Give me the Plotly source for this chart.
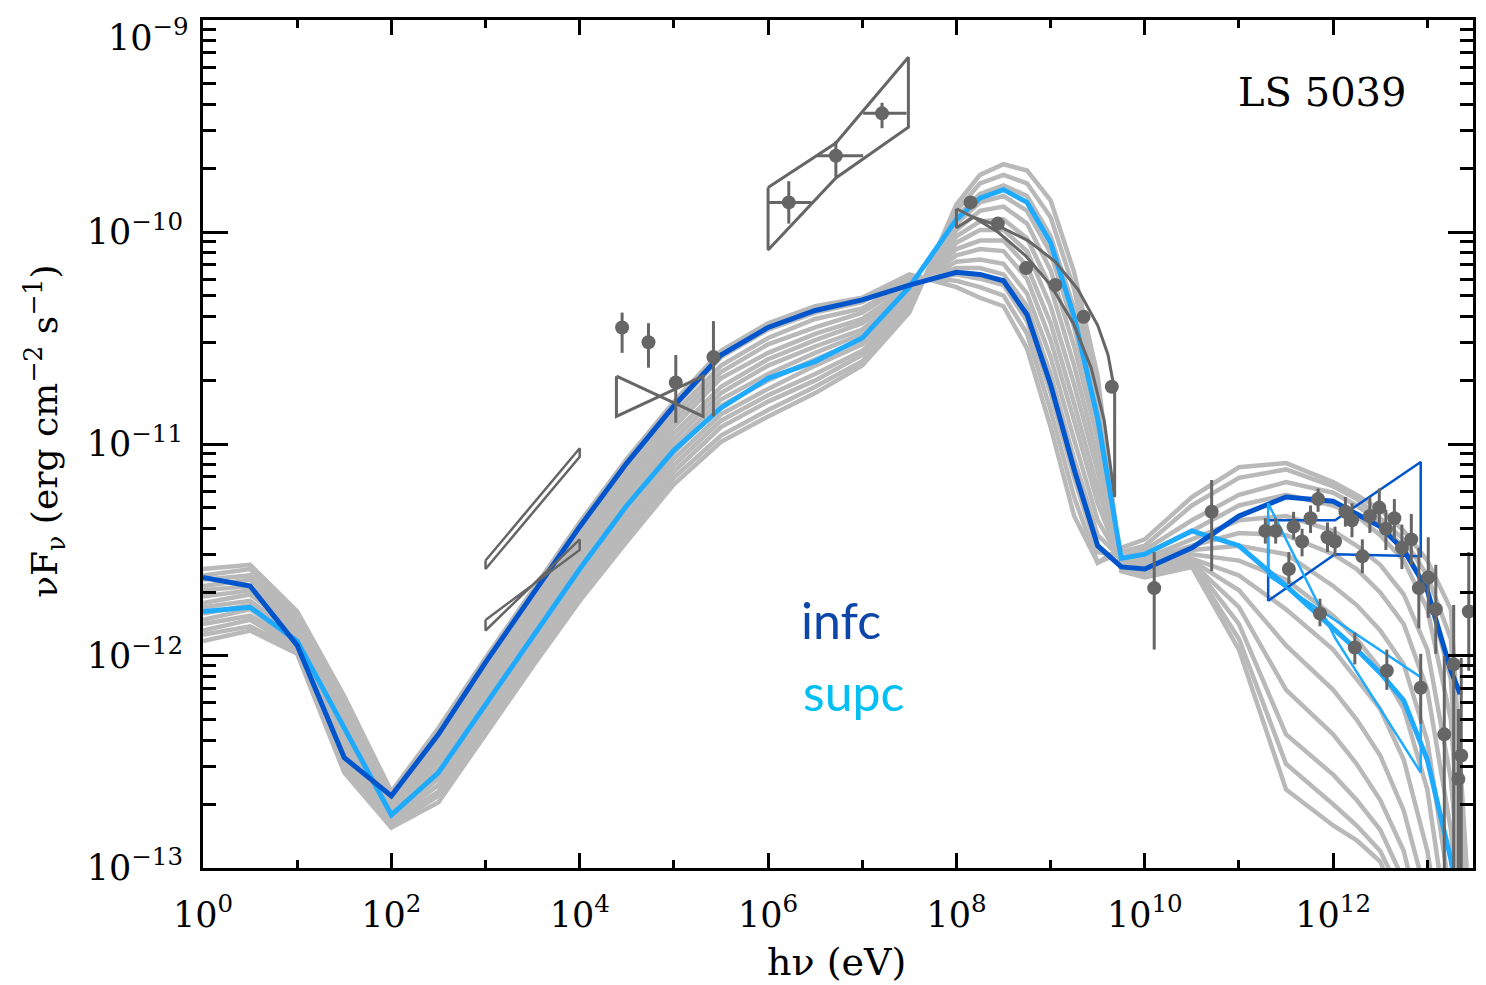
import numpy as np
import plotly.graph_objects as go

# ---------------- model grid: log10(E / eV) ----------------
grid_logE = [0, 0.5, 1, 1.5, 2, 2.5, 3, 3.5, 4, 4.5, 5, 5.5, 6, 6.5, 7, 7.5,
             8, 8.25, 8.5, 8.75, 9, 9.25, 9.5, 9.75, 10, 10.5, 11, 11.5, 12,
             12.25, 12.5, 12.75, 13, 13.25, 13.5]

# ---------------- grey orbital-phase model curves: log10(nuFnu) ----------------
grey_1 = [-11.59, -11.57, -11.79, -12.19, -12.64, -12.34,
          -12.01, -11.69, -11.37, -11.07, -10.80, -10.56, -10.43, -10.35, -10.31, -10.20,
          -10.26, -10.31, -10.35, -10.55, -10.92, -11.34, -11.56,
          -11.49, -11.45, -11.25, -11.11, -11.09, -11.18, -11.24, -11.31, -11.41, -11.55, -11.78, -13.6]
grey_2 = [-11.62, -11.59, -11.81, -12.22, -12.65, -12.37,
          -12.04, -11.72, -11.40, -11.10, -10.83, -10.59, -10.46, -10.38, -10.33, -10.21,
          -10.23, -10.26, -10.30, -10.48, -10.84, -11.25, -11.56,
          -11.51, -11.48, -11.29, -11.16, -11.12, -11.20, -11.26, -11.35, -11.45, -11.62, -11.92, -13.6]
grey_3 = [-11.64, -11.62, -11.82, -12.25, -12.67, -12.39,
          -12.07, -11.75, -11.43, -11.13, -10.86, -10.63, -10.50, -10.41, -10.36, -10.23,
          -10.20, -10.22, -10.25, -10.42, -10.76, -11.16, -11.51,
          -11.53, -11.50, -11.36, -11.24, -11.18, -11.23, -11.29, -11.37, -11.49, -11.69, -12.11, -13.8]
grey_4 = [-11.67, -11.64, -11.84, -12.27, -12.68, -12.42,
          -12.09, -11.77, -11.46, -11.16, -10.89, -10.66, -10.53, -10.45, -10.38, -10.24,
          -10.17, -10.17, -10.20, -10.35, -10.67, -11.07, -11.43,
          -11.54, -11.52, -11.41, -11.29, -11.24, -11.29, -11.34, -11.43, -11.55, -11.78, -12.30, -13.9]
grey_5 = [-11.69, -11.67, -11.85, -12.30, -12.69, -12.45,
          -12.12, -11.80, -11.48, -11.19, -10.92, -10.69, -10.57, -10.48, -10.41, -10.26,
          -10.14, -10.13, -10.15, -10.29, -10.59, -10.98, -11.36,
          -11.55, -11.54, -11.45, -11.36, -11.34, -11.41, -11.48, -11.57, -11.71, -11.97, -12.58, -13.9]
grey_6 = [-11.72, -11.69, -11.87, -12.33, -12.71, -12.47,
          -12.15, -11.83, -11.51, -11.22, -10.95, -10.73, -10.60, -10.51, -10.43, -10.27,
          -10.11, -10.08, -10.09, -10.22, -10.51, -10.89, -11.28,
          -11.56, -11.55, -11.48, -11.42, -11.43, -11.52, -11.59, -11.70, -11.85, -12.16, -12.82, -14.0]
grey_7 = [-11.75, -11.71, -11.88, -12.36, -12.72, -12.50,
          -12.18, -11.86, -11.54, -11.25, -10.98, -10.76, -10.63, -10.54, -10.46, -10.28,
          -10.08, -10.04, -10.04, -10.16, -10.43, -10.81, -11.21,
          -11.56, -11.56, -11.50, -11.48, -11.52, -11.67, -11.76, -11.88, -12.04, -12.40, -13.15, -14.0]
grey_8 = [-11.77, -11.74, -11.90, -12.38, -12.73, -12.53,
          -12.20, -11.88, -11.57, -11.28, -11.01, -10.79, -10.67, -10.57, -10.48, -10.30,
          -10.05, -9.99, -9.99, -10.09, -10.35, -10.72, -11.13,
          -11.57, -11.57, -11.52, -11.55, -11.64, -11.81, -11.92, -12.06, -12.25, -12.63, -13.39, -14.0]
grey_9 = [-11.80, -11.76, -11.91, -12.41, -12.74, -12.56,
          -12.23, -11.91, -11.60, -11.31, -11.04, -10.82, -10.70, -10.60, -10.51, -10.31,
          -10.02, -9.95, -9.94, -10.03, -10.26, -10.63, -11.06,
          -11.58, -11.58, -11.54, -11.62, -11.78, -11.97, -12.11, -12.25, -12.49, -12.92, -13.6, -14.0]
grey_10 = [-11.83, -11.78, -11.93, -12.44, -12.76, -12.58,
           -12.26, -11.94, -11.63, -11.34, -11.07, -10.86, -10.74, -10.63, -10.53, -10.33,
           -9.99, -9.90, -9.88, -9.96, -10.18, -10.54, -10.98,
           -11.58, -11.59, -11.55, -11.69, -11.95, -12.16, -12.30, -12.47, -12.73, -13.15, -13.7, -14.0]
grey_11 = [-11.85, -11.81, -11.94, -12.47, -12.77, -12.61,
           -12.29, -11.97, -11.66, -11.37, -11.10, -10.89, -10.77, -10.67, -10.56, -10.34,
           -9.96, -9.86, -9.83, -9.90, -10.10, -10.45, -10.91,
           -11.58, -11.60, -11.56, -11.77, -12.16, -12.37, -12.51, -12.68, -12.92, -13.39, -14.0, -14.0]
grey_12 = [-11.88, -11.83, -11.96, -12.49, -12.78, -12.64,
           -12.31, -11.99, -11.68, -11.40, -11.13, -10.92, -10.80, -10.70, -10.58, -10.35,
           -9.93, -9.82, -9.78, -9.83, -10.02, -10.36, -10.83,
           -11.59, -11.61, -11.56, -11.85, -12.37, -12.56, -12.68, -12.82, -13.06, -13.6, -14.0, -14.0]
grey_13 = [-11.90, -11.86, -11.97, -12.52, -12.80, -12.66,
           -12.34, -12.02, -11.71, -11.43, -11.16, -10.96, -10.84, -10.73, -10.61, -10.37,
           -9.90, -9.77, -9.73, -9.77, -9.93, -10.27, -10.76,
           -11.59, -11.62, -11.57, -11.92, -12.51, -12.70, -12.80, -12.92, -13.15, -13.8, -14.0, -14.0]
grey_14 = [-11.93, -11.88, -11.99, -12.55, -12.81, -12.69,
           -12.37, -12.05, -11.74, -11.46, -11.19, -10.99, -10.87, -10.76, -10.63, -10.38,
           -9.87, -9.73, -9.68, -9.71, -9.85, -10.19, -10.68,
           -11.60, -11.63, -11.58, -11.97, -12.63, -12.80, -12.87, -12.97, -13.25, -13.9, -14.0, -14.0]
grey_curves = [grey_1, grey_2, grey_3, grey_4, grey_5, grey_6, grey_7,
               grey_8, grey_9, grey_10, grey_11, grey_12, grey_13, grey_14]

# ---------------- highlighted models ----------------
infc_logE = [0, 0.5, 1, 1.5, 2, 2.5, 3, 3.5, 4, 4.5, 5, 5.5, 6, 6.5, 7, 7.5,
             8, 8.25, 8.5, 8.75, 9, 9.25, 9.5, 9.75, 10, 10.5, 11, 11.5, 12,
             12.25, 12.5, 12.75, 13, 13.25, 13.35]
infc_logF = [-11.63, -11.67, -11.95, -12.48, -12.66, -12.37, -12.03, -11.71, -11.39, -11.09,
             -10.82, -10.58, -10.45, -10.37, -10.32, -10.25, -10.19, -10.20, -10.23, -10.39,
             -10.72, -11.12, -11.48, -11.58, -11.59, -11.49, -11.34, -11.25, -11.27, -11.33,
             -11.39, -11.50, -11.69, -12.07, -12.18]
supc_logE = grid_logE
supc_logF = [-11.79, -11.77, -11.93, -12.34, -12.75, -12.55, -12.23, -11.92, -11.59, -11.29,
             -11.03, -10.83, -10.69, -10.61, -10.50, -10.26, -9.94, -9.84, -9.80, -9.86,
             -10.05, -10.40, -10.88, -11.54, -11.52, -11.41, -11.48, -11.67, -11.87, -11.97,
             -12.08, -12.21, -12.49, -12.96, -13.6]

# ---------------- observational data (log10 values) ----------------
# hard X-ray points
hx_logE = [4.45, 4.73, 5.02, 5.42]
hx_logF = [-10.45, -10.52, -10.71, -10.59]
hx_lo = [-10.57, -10.64, -10.90, -10.87]
hx_hi = [-10.38, -10.43, -10.58, -10.42]
# COMPTEL points
ct_logE = [6.22, 6.72, 7.21]
ct_logF = [-9.86, -9.64, -9.44]
ct_xlo = [6.00, 6.52, 7.01]
ct_xhi = [6.46, 7.01, 7.47]
ct_lo = [-9.96, -9.74, -9.51]
ct_hi = [-9.76, -9.57, -9.39]
# Fermi points
fm_logE = [8.15, 8.44, 8.74, 9.05, 9.35, 9.65]
fm_logF = [-9.86, -9.96, -10.17, -10.25, -10.40, -10.73]
fh_logE = [10.10, 10.71]
fh_logF = [-11.68, -11.32]
fh_lo = [-11.97, -11.60]
fh_hi = [-11.51, -11.17]
# H.E.S.S. points (high state)
hs_logE = [11.28, 11.39, 11.58, 11.67, 11.76, 11.53, 11.84, 11.94, 12.02, 12.13, 12.20, 12.31, 12.39,
           12.49, 12.56, 12.65, 12.73, 12.83, 12.91, 13.01, 13.09, 13.18, 13.28, 13.33, 13.36, 13.44]
hs_logF = [-11.41, -11.41, -11.39, -11.46, -11.35, -11.59, -11.26, -11.44, -11.46, -11.32, -11.36, -11.53,
           -11.34, -11.30, -11.40, -11.35, -11.49, -11.45, -11.68, -11.63, -11.78, -12.37, -12.04, -12.58,
           -12.47, -11.79]
hs_lo = [-11.47, -11.47, -11.45, -11.53, -11.42, -11.66, -11.32, -11.51, -11.53, -11.39, -11.44, -11.61,
         -11.42, -11.38, -11.50, -11.45, -11.59, -11.57, -11.87, -11.82, -11.99, -14.0, -14.0, -14.0,
         -14.0, -12.07]
hs_hi = [-11.35, -11.35, -11.32, -11.40, -11.29, -11.51, -11.21, -11.37, -11.39, -11.25, -11.28, -11.45,
         -11.25, -11.21, -11.31, -11.26, -11.38, -11.33, -11.49, -11.44, -11.57, -12.00, -11.76, -12.25,
         -12.01, -11.51]
# H.E.S.S. points (low state)
hl_logE = [11.86, 12.23, 12.57, 12.93]
hl_logF = [-11.80, -11.96, -12.07, -12.15]
hl_lo = [-11.86, -12.04, -12.16, -12.32]
hl_hi = [-11.73, -11.89, -11.97, -11.99]

# spectral bow-ties / butterflies (outline vertices)
bt_opt1_logE = [3.0, 4.0, 4.0, 3.0, 3.0]
bt_opt1_logF = [-11.55, -11.02, -11.06, -11.59, -11.55]
bt_opt2_logE = [3.0, 4.0, 4.0, 3.0, 3.0]
bt_opt2_logF = [-11.83, -11.50, -11.45, -11.88, -11.83]
bt_x_logE = [4.39, 5.31, 5.31, 4.39, 4.39]
bt_x_logF = [-10.68, -10.87, -10.68, -10.87, -10.68]
bt_ct_logE = [6.0, 6.72, 7.49, 7.49, 6.72, 6.0, 6.0]
bt_ct_logF = [-9.79, -9.58, -9.175, -9.505, -9.745, -10.085, -9.79]
bt_fm_logE = [8.0, 8.18, 8.44, 8.73, 9.00, 9.24, 9.43, 9.57, 9.68, 9.68,
              9.61, 9.50, 9.29, 9.05, 8.76, 8.44, 8.18, 8.0, 8.0]
bt_fm_logF = [-9.89, -9.93, -10.00, -10.11, -10.25, -10.43, -10.64, -10.89, -11.25, -10.75,
              -10.58, -10.44, -10.27, -10.14, -10.04, -9.97, -9.93, -9.98, -9.89]
bt_infc_logE = [11.31, 12.02, 12.93, 12.93, 12.02, 11.31, 11.31]
bt_infc_logF = [-11.36, -11.36, -11.085, -11.53, -11.52, -11.74, -11.36]
bt_supc_logE = [11.31, 12.93, 12.93, 12.02, 11.31, 11.31]
bt_supc_logF = [-11.62, -12.10, -12.55, -11.915, -11.28, -11.62]

GREY_MODEL = "#B9B9B9"
DATA = "#666666"
DARK = "#0055CD"
LIGHT = "#1EAAFF"


def p(v):
    return 10 ** np.asarray(v, dtype=float)


fig = go.Figure()
E_grid = p(grid_logE)
for g in grey_curves:
    fig.add_trace(go.Scatter(x=E_grid, y=p(g), mode="lines",
                             line=dict(color=GREY_MODEL, width=4.5),
                             hoverinfo="skip", showlegend=False))

fig.add_trace(go.Scatter(x=p(supc_logE), y=p(supc_logF), mode="lines",
                         line=dict(color=LIGHT, width=5), showlegend=False))
fig.add_trace(go.Scatter(x=p(infc_logE), y=p(infc_logF), mode="lines",
                         line=dict(color=DARK, width=5), showlegend=False))

# outlines
for ex, fy, col, w in [(bt_opt1_logE, bt_opt1_logF, DATA, 2.5),
                       (bt_opt2_logE, bt_opt2_logF, DATA, 2.5),
                       (bt_x_logE, bt_x_logF, DATA, 3),
                       (bt_ct_logE, bt_ct_logF, DATA, 3),
                       (bt_fm_logE, bt_fm_logF, DATA, 3),
                       (bt_infc_logE, bt_infc_logF, DARK, 2.5),
                       (bt_supc_logE, bt_supc_logF, LIGHT, 2.5)]:
    fig.add_trace(go.Scatter(x=p(ex), y=p(fy), mode="lines",
                             line=dict(color=col, width=w), showlegend=False))


def pts(lx, ly, lo=None, hi=None, xlo=None, xhi=None):
    x = p(lx)
    y = p(ly)
    kw = {}
    if lo is not None:
        kw["error_y"] = dict(type="data", symmetric=False, array=p(hi) - y,
                             arrayminus=y - p(lo), thickness=3, width=0, color=DATA)
    if xlo is not None:
        kw["error_x"] = dict(type="data", symmetric=False, array=p(xhi) - x,
                             arrayminus=x - p(xlo), thickness=3, width=0, color=DATA)
    fig.add_trace(go.Scatter(x=x, y=y, mode="markers",
                             marker=dict(color=DATA, size=14), showlegend=False, **kw))


pts(hx_logE, hx_logF, hx_lo, hx_hi)
pts(ct_logE, ct_logF, ct_lo, ct_hi, ct_xlo, ct_xhi)
pts(fm_logE, fm_logF)
pts(fh_logE, fh_logF, fh_lo, fh_hi)
pts(hs_logE, hs_logF, hs_lo, hs_hi)
pts(hl_logE, hl_logF, hl_lo, hl_hi)

TICKFONT = dict(family="DejaVu Serif", size=35, color="black")

x_major = [10 ** k for k in range(0, 13, 2)]
x_text = ["10<sup>%d</sup>" % k for k in range(0, 13, 2)]
x_minor = [10 ** k for k in range(1, 14, 2)]
y_major = [10.0 ** k for k in range(-13, -8)]
# top label (10^-9) is drawn separately so it stays inside the page, as in the reference
y_text = ["10<sup>\u2212%d</sup>" % (-k) for k in range(-13, -9)] + [""]
y_minor = [m * 10.0 ** k for k in range(-13, -9) for m in range(2, 10)]

fig.update_layout(
    width=1486, height=985,
    margin=dict(l=203, r=10, t=20, b=117),
    paper_bgcolor="white", plot_bgcolor="white",
    showlegend=False,
    xaxis=dict(type="log", range=[0, 13.485], tickmode="array", tickvals=x_major, ticktext=x_text,
               ticks="inside", ticklen=15, tickwidth=2.5, tickcolor="black",
               showline=True, linewidth=3, linecolor="black", mirror="ticks",
               showgrid=False, zeroline=False, tickfont=TICKFONT, ticklabelstandoff=14,
               minor=dict(tickmode="array", tickvals=x_minor, ticks="inside", ticklen=8,
                          tickwidth=2.5, tickcolor="black", showgrid=False)),
    yaxis=dict(type="log", range=[-13.0005, -8.9995], tickmode="array", tickvals=y_major, ticktext=y_text,
               ticks="inside", ticklen=25, tickwidth=2.5, tickcolor="black",
               showline=True, linewidth=3, linecolor="black", mirror="ticks",
               showgrid=False, zeroline=False, tickfont=TICKFONT, ticklabelstandoff=10,
               minor=dict(tickmode="array", tickvals=y_minor, ticks="inside", ticklen=13,
                          tickwidth=2.5, tickcolor="black", showgrid=False)),
    annotations=[
        dict(text="10<sup>\u22129</sup>", x=0, y=0.982, xref="paper", yref="paper",
             xanchor="right", yanchor="middle", xshift=-12, showarrow=False,
             font=TICKFONT),
        dict(text="h\u03bd (eV)", x=0.4988, y=-0.111, xref="paper", yref="paper",
             showarrow=False, font=dict(family="DejaVu Serif", size=38, color="black"),
             xanchor="center", yanchor="middle"),
        dict(text="\u03bdF<sub>\u03bd</sub> (erg cm<sup>\u22122</sup> s<sup>\u22121</sup>)",
             x=-0.124, y=0.515, xref="paper", yref="paper", textangle=-90,
             showarrow=False, font=dict(family="DejaVu Serif", size=36, color="black"),
             xanchor="center", yanchor="middle"),
        dict(text="LS 5039", x=0.8814, y=0.915, xref="paper", yref="paper",
             showarrow=False, font=dict(family="DejaVu Serif", size=40, color="black"),
             xanchor="center", yanchor="middle"),
        dict(text="infc", x=0.502, y=0.2925, xref="paper", yref="paper",
             showarrow=False, font=dict(family="Lato", size=50, color="#0B46A8"),
             xanchor="center", yanchor="middle"),
        dict(text="supc", x=0.512, y=0.2075, xref="paper", yref="paper",
             showarrow=False, font=dict(family="Lato", size=50, color="#00BFF3"),
             xanchor="center", yanchor="middle"),
    ],
)

fig.write_html("out.html")
